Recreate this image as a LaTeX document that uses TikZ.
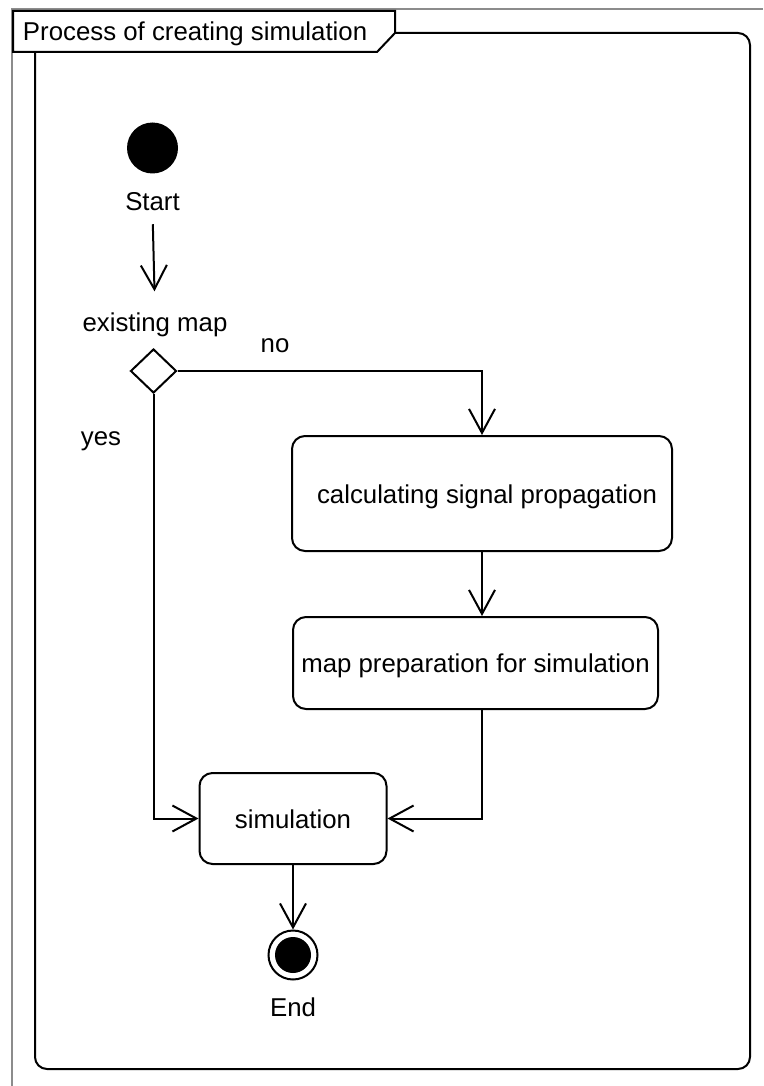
\documentclass[tikz,border=0pt]{standalone}
\usepackage{fontspec}
\setmainfont{Liberation Sans}
\usetikzlibrary{arrows.meta,shapes.geometric}
\definecolor{edgegray}{RGB}{140,140,140}
\begin{document}
\begin{tikzpicture}[x=1pt,y=-1pt,line width=2pt,
  every node/.style={font=\fontsize{25.8}{31}\selectfont, inner sep=0pt},
  arr/.style={-{Straight Barb[length=24pt,width=26pt]}},
  actbox/.style={draw, rounded corners=13pt, fill=white, text height=21pt, text depth=2pt},
  lbl/.style={anchor=base},
]
\fill[white] (0,0) rectangle (763,1086);
\useasboundingbox (0,0) rectangle (763,1086);
% outer gray border
\draw[edgegray, line width=2.5pt] (12,1086) -- (12,9) -- (763,9);
% frame
\node[draw, rounded corners=12pt, minimum width=715pt, minimum height=1036pt] (frame) at (392.5,551) {};
\draw[fill=white] (13,11) -- (395,11) -- (395,33) -- (377,52) -- (13,52) -- cycle;
\node[anchor=base west] (title) at (22,40.5) {Process of creating simulation};
% nodes
\node[circle, fill=black, minimum size=51pt] (start) at (152.5,148) {};
\node[lbl] (slabel) at (152.5,210) {Start};
\node[lbl] (mlabel) at (155,331) {existing map};
\node[diamond, draw, fill=white, minimum width=46pt, minimum height=44pt] (dia) at (153.5,371) {};
\node[lbl] (no) at (275,352) {no};
\node[lbl] (yes) at (101,445) {yes};
\node[actbox, minimum width=380pt, minimum height=115pt] (calc) at (482,493.5) {\hspace*{10pt}calculating signal propagation};
\node[actbox, minimum width=365pt, minimum height=92pt] (map) at (475.5,663) {map preparation for simulation};
\node[actbox, minimum width=187pt, minimum height=91pt] (sim) at (293,818.5) {simulation};
\node[circle, draw, fill=white, minimum size=49pt] (end) at (293,955) {};
\node[circle, fill=black, minimum size=36pt] (endin) at (end.center) {};
\node[lbl] (elabel) at (293,1016) {End};
% connectors
\draw[arr, shorten <=13pt, shorten >=20pt] (slabel.south) -- (mlabel.north);
\draw[arr] (dia.east) -| (calc.north);
\draw[arr] (calc.south) -- (calc.south |- map.north);
\draw[arr] (calc.south |- map.south) |- (sim.east);
\draw[arr] (dia.south) |- (sim.west);
\draw[arr] (sim.south) -- (end.north);
\end{tikzpicture}
\end{document}
